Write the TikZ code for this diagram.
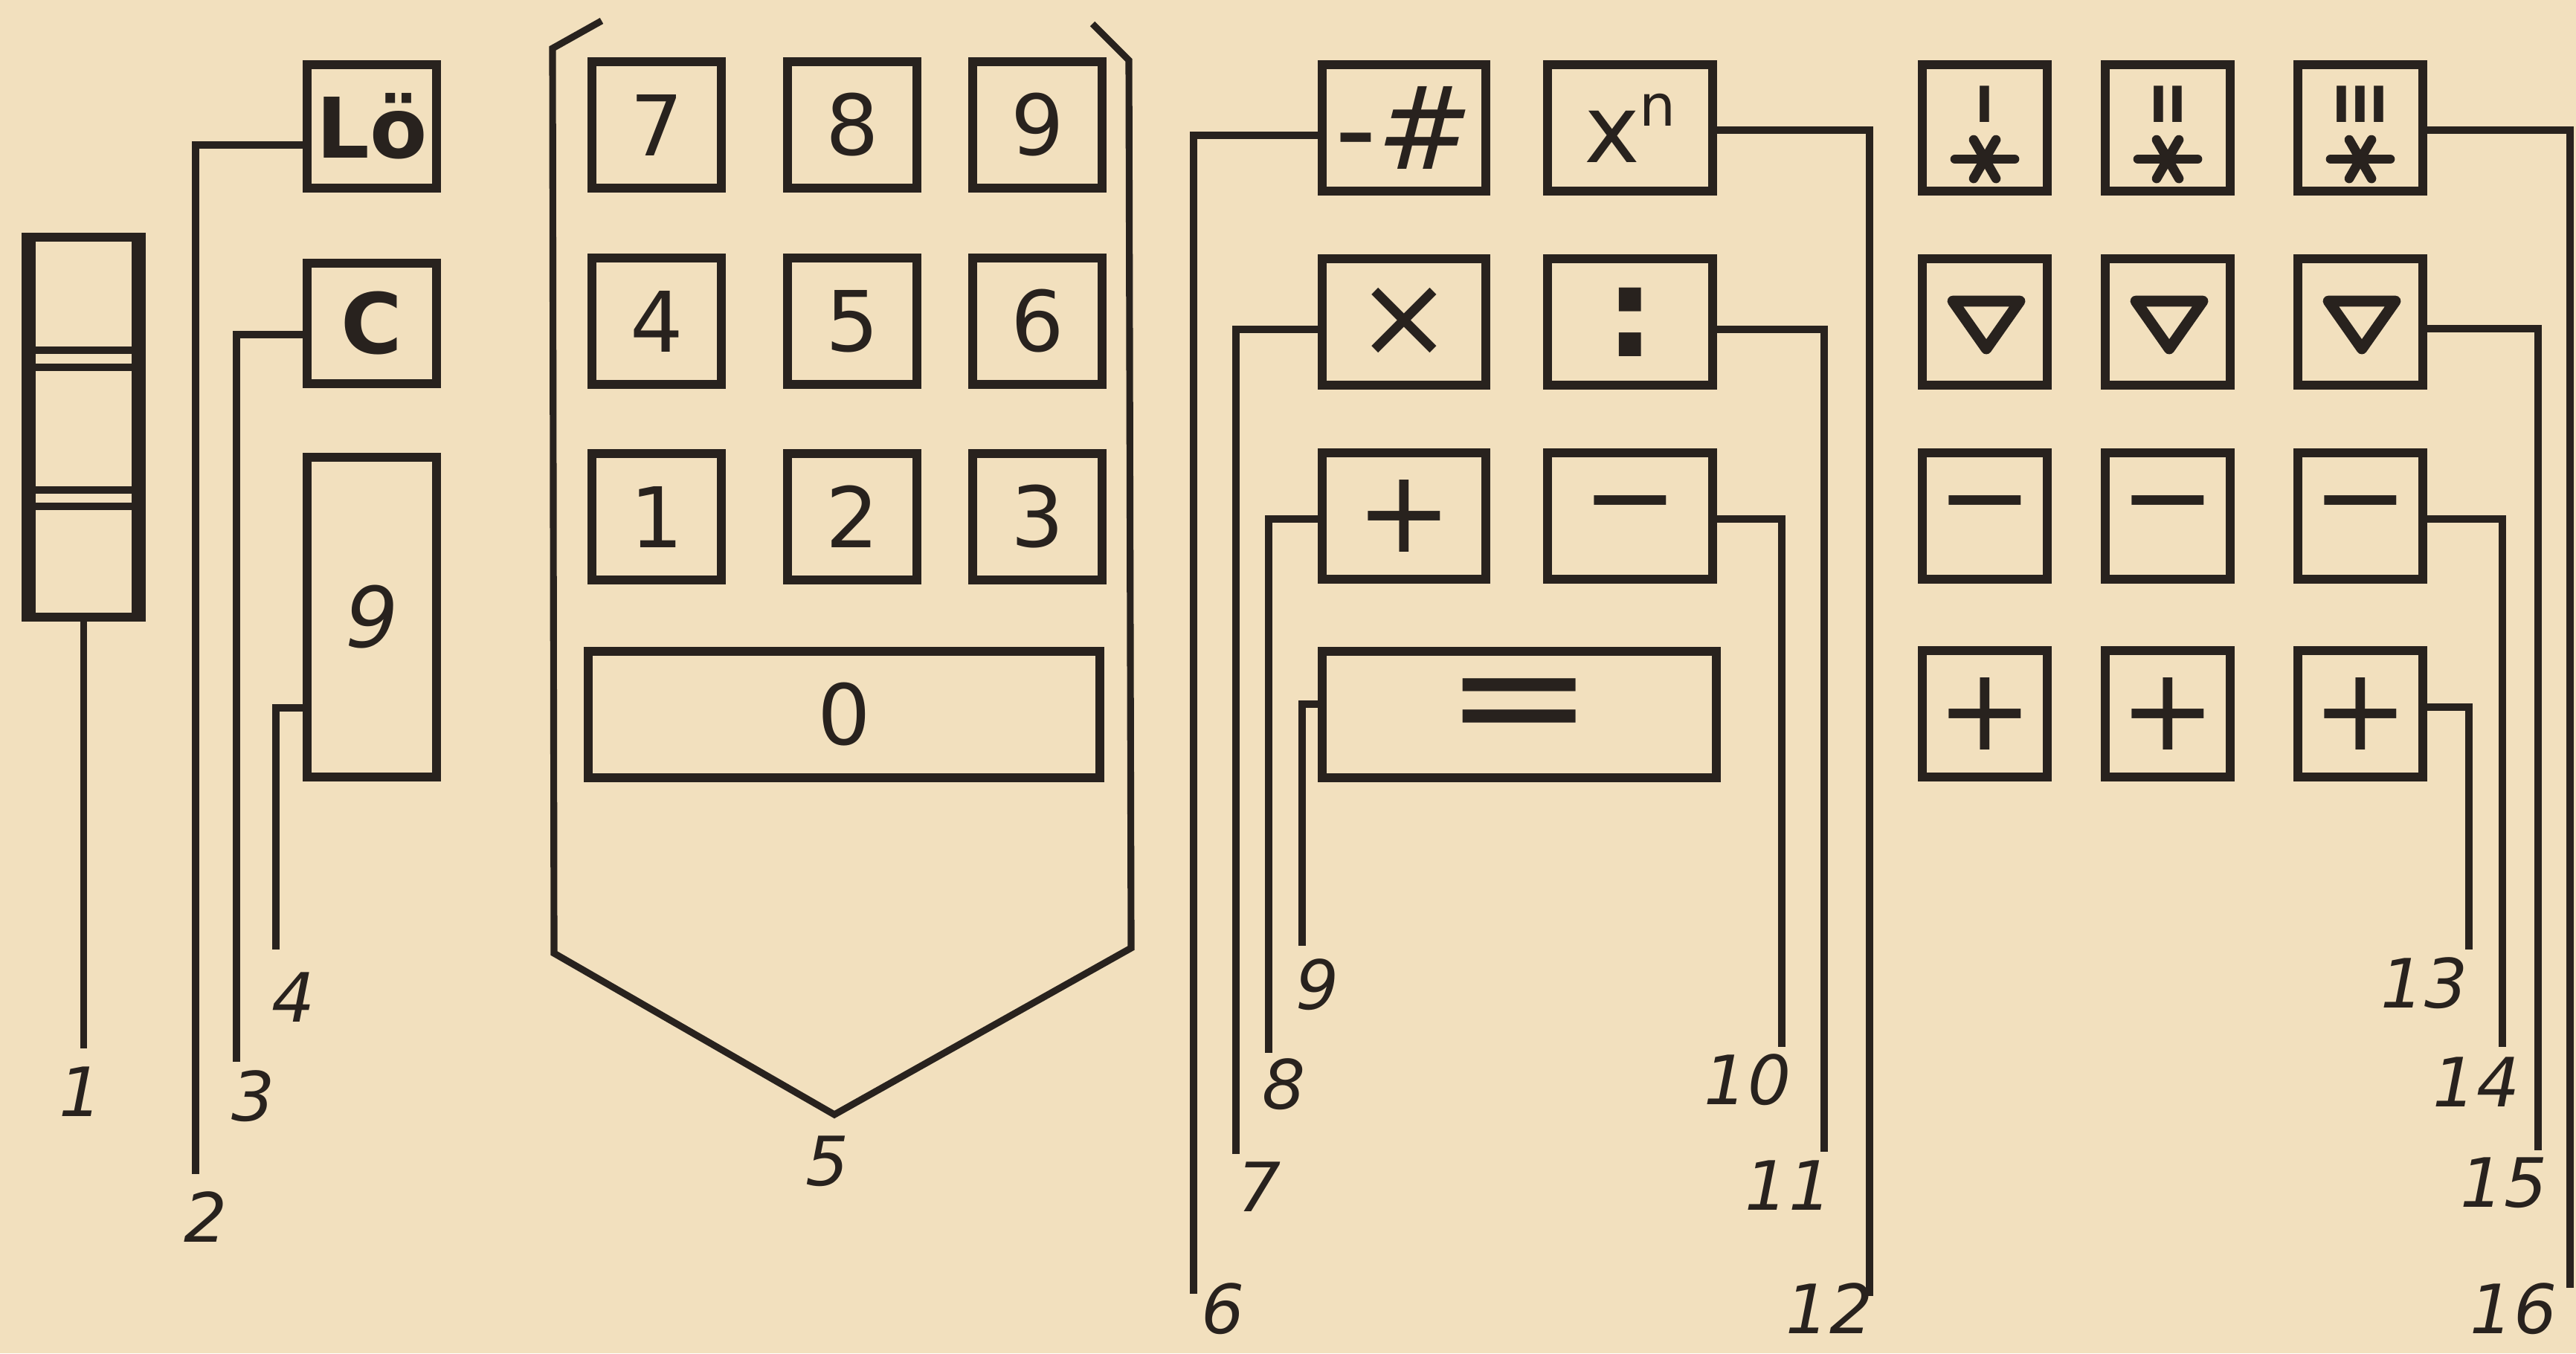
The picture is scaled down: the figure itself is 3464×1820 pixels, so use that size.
\documentclass[tikz,border=0pt]{standalone}
\usepackage{fontspec}
\usepackage{graphicx}
\setmainfont{DejaVu Sans}
\usetikzlibrary{calc}
\definecolor{paper}{RGB}{242,224,190}
\definecolor{ink}{RGB}{40,34,30}
\begin{document}
\begin{tikzpicture}[x=0.01cm,y=-0.01cm,
  key/.style={draw=ink, line width=3.4pt, minimum width=1.73cm, minimum height=1.70cm, inner sep=0pt, text=ink, font=\fontsize{32}{36}\selectfont},
  symkey/.style={key, font=\fontsize{44}{48}\selectfont},
  conn/.style={draw=ink, line width=2.6pt, line join=miter},
  num/.style={text=ink, inner sep=0pt, font=\fontsize{26}{28}\selectfont\itshape},
  sym/.style={draw=ink, line width=3.6pt, line cap=round, line join=round},
  roman/.style={text=ink, inner sep=0pt, font=\fontsize{19}{21}\selectfont\bfseries},
]
\useasboundingbox (0,0) rectangle (3464,1820);
\fill[paper] (0,0) rectangle (3464,1820);

% ---- element 1 (three-slot switch)
\node[draw=ink, line width=3.4pt, minimum width=1.55cm, minimum height=5.11cm, inner sep=0pt] (sw) at (112.5,574.5) {};
\fill[ink] (29,313) rectangle (48,836);
\fill[ink] (177,313) rectangle (196,836);
\draw[ink, line width=2.8pt] (29,471) -- (196,471) (29,494) -- (196,494);
\draw[ink, line width=2.8pt] (29,659) -- (196,659) (29,681) -- (196,681);
\coordinate (e1) at (112.5,1410);
\draw[conn] (sw.south) -- (e1);
\node[num] (l1) at (109,1468) {1};

% ---- left column
\node[key, minimum height=1.65cm, font=\fontsize{32}{36}\selectfont\bfseries] (lo) at (500,170) {Lö};
\node[key, minimum height=1.62cm, font=\fontsize{32}{36}\selectfont\bfseries] (cl) at (500,435) {C};
\node[key, minimum height=4.29cm, font=\fontsize{32}{36}\selectfont\itshape] (nine) at (500,830) {9};
\coordinate (e2) at (263,1579);
\coordinate (e3) at (318,1428);
\coordinate (e4) at (371,1277);
\draw[conn] (lo.west |- 0,195) -| (e2);
\draw[conn] (cl.west |- 0,450) -| (e3);
\draw[conn] (nine.west |- 0,952) -| (e4);
\node[num] (l2) at (277,1637) {2};
\node[num] (l3) at (341,1474) {3};
\node[num] (l4) at (395,1341) {4};

% ---- digit block with bracket
\draw[ink, line width=2.6pt, line join=miter] (809,28) -- (743,65) -- (745,1282) -- (1122,1499) -- (1521,1275) -- (1518,81) -- (1469,32);
\node[key] (k7) at (883,168) {7};
\node[key] (k8) at (1146,168) {8};
\node[key] (k9) at (1395,168) {9};
\node[key] (k4) at (883,432) {4};
\node[key] (k5) at (1146,432) {5};
\node[key] (k6) at (1395,432) {6};
\node[key] (k1) at (883,695) {1};
\node[key] (k2) at (1146,695) {2};
\node[key] (k3) at (1395,695) {3};
\node[key, minimum width=6.87cm] (k0) at (1135,961) {0};
\node[num] (l5) at (1113,1562) {5};

% ---- operation keys
\node[symkey, minimum width=2.19cm] (neg) at (1888,172) {-{\itshape\#}};
\node[key, minimum width=2.21cm, font=\fontsize{36}{40}\selectfont] (pow) at (2192,172) {x\raisebox{14pt}{\fontsize{22}{24}\selectfont n}};
\node[symkey, minimum width=2.19cm] (mul) at (1888,433) {×};
\node[symkey, minimum width=2.21cm, font=\fontsize{48}{52}\selectfont\bfseries] (dv) at (2192,433) {:};
\node[symkey, minimum width=2.19cm] (pl) at (1888,694) {+};
\node[symkey, minimum width=2.21cm] (mi) at (2192,694) {−};
\node[key, minimum width=5.29cm, font=\fontsize{60}{60}\selectfont] (eq) at (2043,961) {\scalebox{1.15}[1]{=}};

\coordinate (e6) at (1605,1740);
\coordinate (e7) at (1662,1552);
\coordinate (e8) at (1706,1416);
\coordinate (e9) at (1751,1272);
\coordinate (e10) at (2396,1408);
\coordinate (e11) at (2453,1549);
\coordinate (e12) at (2514,1743);
\draw[conn] (neg.west |- 0,182) -| (e6);
\draw[conn] (mul.west |- 0,443) -| (e7);
\draw[conn] (pl.west |- 0,698) -| (e8);
\draw[conn] (eq.west |- 0,947) -| (e9);
\draw[conn] (mi.east |- 0,698) -| (e10);
\draw[conn] (dv.east |- 0,443) -| (e11);
\draw[conn] (pow.east |- 0,175) -| (e12);
\node[num] (l6) at (1645,1760) {6};
\node[num] (l7) at (1694,1596) {7};
\node[num] (l8) at (1727,1458) {8};
\node[num] (l9) at (1772,1324) {9};
\node[num] (l10) at (2350,1452) {10};
\node[num] (l11) at (2405,1594) {11};
\node[num] (l12) at (2460,1760) {12};

% ---- memory / sign grid
\foreach \c/\x in {1/2669,2/2915,3/3174}{
  \node[key, minimum width=1.68cm] (r1c\c) at (\x,172) {};
  \node[key, minimum width=1.68cm] (r2c\c) at (\x,433) {};
  \node[symkey, minimum width=1.68cm] (r3c\c) at (\x,694) {−};
  \node[symkey, minimum width=1.68cm] (r4c\c) at (\x,960) {+};
}
\node[roman] (m1) at ([yshift=0.32cm]r1c1.center) {I};
\node[roman] (m2) at ([yshift=0.32cm]r1c2.center) {II};
\node[roman] (m3) at ([yshift=0.32cm]r1c3.center) {III};
\foreach \n in {r1c1,r1c2,r1c3}{
  \draw[sym] ([xshift=-0.40cm,yshift=-0.42cm]\n.center) -- ([xshift=0.40cm,yshift=-0.42cm]\n.center);
  \draw[sym] ([xshift=-0.15cm,yshift=-0.16cm]\n.center) -- ([xshift=0.15cm,yshift=-0.68cm]\n.center);
  \draw[sym] ([xshift=0.15cm,yshift=-0.16cm]\n.center) -- ([xshift=-0.15cm,yshift=-0.68cm]\n.center);
}
\foreach \n in {r2c1,r2c2,r2c3}{
  \draw[ink, line width=4.2pt, line join=round] ([xshift=-0.43cm,yshift=0.28cm]\n.center) -- ([xshift=0.47cm,yshift=0.28cm]\n.center) -- ([xshift=0.02cm,yshift=-0.36cm]\n.center) -- cycle;
}
\coordinate (e13) at (3320,1277);
\coordinate (e14) at (3365,1408);
\coordinate (e15) at (3413,1547);
\coordinate (e16) at (3456,1732);
\draw[conn] (r4c3.east |- 0,951) -| (e13);
\draw[conn] (r3c3.east |- 0,698) -| (e14);
\draw[conn] (r2c3.east |- 0,442) -| (e15);
\draw[conn] (r1c3.east |- 0,175) -| (e16);
\node[num] (l13) at (3260,1322) {13};
\node[num] (l14) at (3330,1455) {14};
\node[num] (l15) at (3367,1591) {15};
\node[num] (l16) at (3380,1760) {16};
\end{tikzpicture}
\end{document}
